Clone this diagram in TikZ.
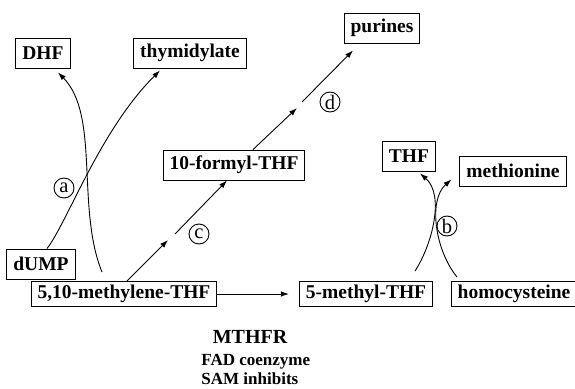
\documentclass[tikz,border=0pt]{standalone}
\usepackage{fontspec}
\setmainfont{Liberation Serif}
\usetikzlibrary{arrows.meta}
\usetikzlibrary{positioning}

\begin{document}
\begin{tikzpicture}[x=1pt, y=-1pt, >={Latex[length=8pt,width=5.5pt]}, line width=0.9pt,
    metab/.style={draw, font=\fontsize{19.5}{21}\selectfont\bfseries, inner xsep=6.5pt, inner ysep=0pt, minimum height=30pt},
    metablow/.style={metab, minimum height=25pt},
    enz/.style={draw, circle, inner sep=0pt, minimum size=20pt, font=\fontsize{20.5}{20}\selectfont}]
      \useasboundingbox (0,0) rectangle (575,388);

      \node[metab]    (dhf)     at (43,53)   {DHF};
      \node[metab]    (thy)     at (190,53)  {thymidylate};
      \node[metab]    (purines) at (382,28)  {purines};
      \node[metab]    (fthf)    at (234,165) {10-formyl-THF};
      \node[metab]    (thf)     at (409,156) {THF};
      \node[metab]    (met)     at (513,171) {methionine};
      \node[metab]    (dump)    at (41,264)  {dUMP};
      \node[metablow] (ch2thf)  at (124,294) {5,10-methylene-THF};
      \node[metablow] (mthf)    [right of=ch2thf, node distance=242pt] {5-methyl-THF};
      \node[metablow] (hcy)     [right of=mthf, node distance=148pt]   {homocysteine};

      \node[font=\fontsize{20}{22}\selectfont\bfseries] (mthfr) at (250,337) {MTHFR};
      \node[font=\fontsize{17}{19}\selectfont\bfseries, align=left, anchor=north west, inner sep=0pt]
            (cofac) at (201,354) {FAD coenzyme\\SAM inhibits};

      % gaps in the c and d arrows
      \coordinate (c_lo) at (168,240);
      \coordinate (c_hi) at (175,234);
      \coordinate (d_lo) at (297,108);
      \coordinate (d_hi) at (302,102);

      \path[->] (ch2thf) edge [shorten >=10pt] (mthf);
      \draw[->] ([shift={(3,0)}]ch2thf.north) -- (c_lo);
      \draw[->] (c_hi) -- ([shift={(-7,0)}]fthf.south);
      \draw[->] ([shift={(19,0)}]fthf.north) -- (d_lo);
      \draw[->] (d_hi) -- ([shift={(-29,7)}]purines.south);

      % reaction a
      \draw[->] ([shift={(-22,-9)}]ch2thf.north) .. controls (76,208) and (100,115) .. ([shift={(15,4)}]dhf.south);
      \draw[->] ([shift={(6,0)}]dump.north) .. controls (67,223) and (100,130) .. ([shift={(-30,2)}]thy.south);
      % reaction b
      \draw[->] ([shift={(49,-10)}]mthf.north) .. controls (432,245) and (445,195) .. ([shift={(11,2)}]thf.south);
      \draw[->] ([shift={(-57,-4)}]hcy.north) .. controls (435,250) and (428,200) .. ([shift={(-8,-7)}]met.south west);

      \node[enz] (lab_a) at (64,188)  {a};
      \node[enz] (lab_b) at (447,226) {b};
      \node[enz] (lab_c) at (199,234) {c};
      \node[enz] (lab_d) at (330,102) {d};
    \end{tikzpicture}
\end{document}
